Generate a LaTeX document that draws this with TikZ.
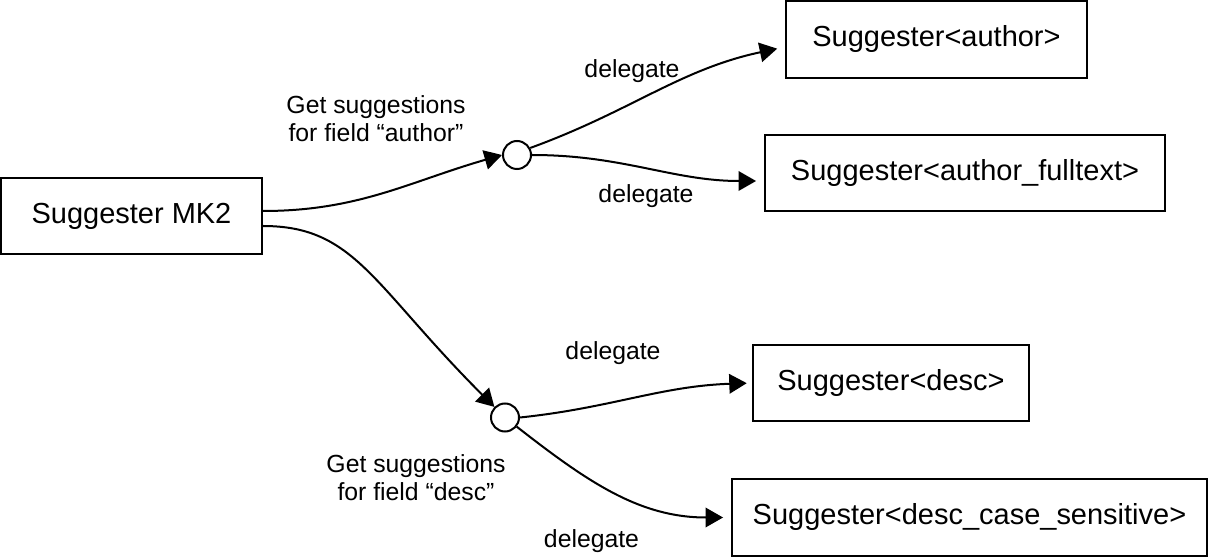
\documentclass[tikz,border=0pt]{standalone}
\usepackage{fontspec}
\setmainfont{Liberation Sans}
\usetikzlibrary{arrows.meta}

\begin{document}
\begin{tikzpicture}[x=0.02cm,y=-0.02cm,line width=1.14pt,
  box/.style={draw,rectangle,minimum height=1.54cm,inner sep=0pt,font=\fontsize{16.5}{20}\selectfont},
  hub/.style={draw,circle,minimum size=0.56cm,inner sep=0pt},
  lbl/.style={align=center,inner sep=0pt,font=\fontsize{14.1}{15.9}\selectfont},
  link/.style={-{Triangle[length=0.35cm,width=0.39cm]}}]
\useasboundingbox (0,0) rectangle (1208,557);
\node[box,minimum width=5.22cm,minimum height=1.52cm] (mk2) at (131.5,216) {Suggester MK2};
\node[hub] (hubA) at (517,155) {};
\node[hub] (hubB) at (505,417.5) {};
\node[box,minimum width=6.02cm] (author) at (936.5,39.5) {Suggester<author>};
\node[box,minimum width=8cm] (fulltext) at (965,173) {Suggester<author\_fulltext>};
\node[box,minimum width=5.53cm] (desc) at (891,383) {Suggester<desc>};
\node[box,minimum width=9.5cm] (case) at (969.5,517.5) {Suggester<desc\_case\_sensitive>};
\node[lbl] (getA) at (376,119) {Get suggestions\\for field “author”};
\node[lbl] (getB) at (416,478) {Get suggestions\\for field “desc”};
\node[lbl] (delA) at (632,71) {delegate};
\node[lbl] (delF) at (646,196) {delegate};
\node[lbl] (delD) at (613,353) {delegate};
\node[lbl] (delC) at (591.5,541) {delegate};
\draw[link] ([yshift=0.1cm]mk2.east) to[out=0,in=196] (hubA.west);
\draw[link] ([yshift=-0.2cm]mk2.east) to[out=0,in=135,out looseness=0.8,in looseness=1.5] (hubB.135);
\draw[link,shorten >=0.16cm] (hubA.28) to[out=20,in=192] ([yshift=-0.15cm]author.west);
\draw[link,shorten >=0.16cm] (hubA.east) to[out=0,in=180] ([yshift=-0.16cm]fulltext.west);
\draw[link,shorten >=0.1cm] (hubB.east) to[out=6,in=182] (desc.west);
\draw[link,shorten >=0.16cm] (hubB.-38) to[out=-38,in=180] (case.west);
\end{tikzpicture}
\end{document}
